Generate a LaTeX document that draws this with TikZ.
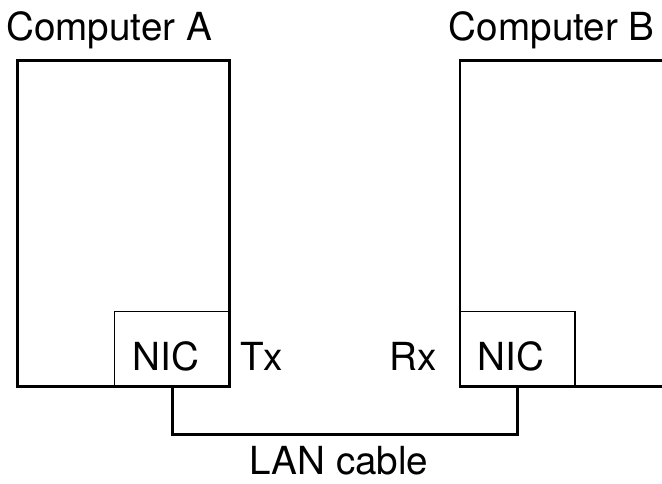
\documentclass[tikz,border=0pt]{standalone}
\usepackage{fontspec}
\setmainfont{TeX Gyre Heros}
\begin{document}
\begin{tikzpicture}[
    every node/.append style={font=\fontsize{22}{26}\selectfont, inner sep=0pt},
    % box styles
    pcbox/.style={draw, line width=1.7pt, minimum width=4.24cm, minimum height=6.52cm},
    nicbox/.style={draw, line width=1pt, minimum width=2.31cm, minimum height=1.52cm},
    cable/.style={line width=1.7pt},
]
\useasboundingbox (0, 0) rectangle (13.24, 9.68);

% ========== Computers ==========
\node[pcbox] (pcA) at (2.466, 5.2) {};
\node[pcbox] (pcB) at (11.32, 5.2) {};
\node[anchor=base west] at ([xshift=-0.2cm, yshift=0.38cm]pcA.north west) {Computer A};
\node[anchor=base west] at ([xshift=-0.2cm, yshift=0.38cm]pcB.north west) {Computer B};

% ========== NICs ==========
\node[nicbox, anchor=south east] (nicA) at (pcA.south east) {};
\node[nicbox, anchor=south west] (nicB) at (pcB.south west) {};
\node[anchor=base west] at ([xshift=0.38cm, yshift=0.366cm]nicA.south west) {NIC};
\node[anchor=base west] at ([xshift=0.38cm, yshift=0.366cm]nicB.south west) {NIC};
\node[anchor=base west] at ([xshift=0.18cm, yshift=0.366cm]nicA.south east) {Tx};
\node[anchor=base east] at ([xshift=-0.42cm, yshift=0.366cm]nicB.south west) {Rx};

% ========== LAN cable ==========
\coordinate (bend) at (6.78, 0.98);
\draw[cable] (nicA.south) |- (bend) -| (nicB.south);
\node[anchor=base, text depth=0pt] at ([yshift=-0.8cm]bend) {LAN cable};

\end{tikzpicture}
\end{document}
